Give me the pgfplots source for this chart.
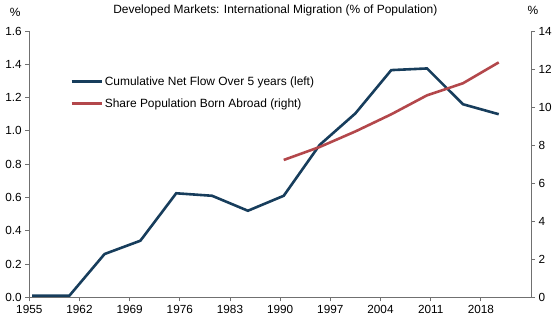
\documentclass[border=0pt]{standalone}
\usepackage{pgfplots}
\pgfplotsset{compat=1.18}
\usepackage{fontspec}
\setmainfont{Liberation Sans}
\definecolor{flowblue}{HTML}{173D5C}
\definecolor{sharered}{HTML}{B3474B}
\definecolor{axgray}{HTML}{707070}
\begin{document}
\begin{tikzpicture}
\pgfplotsset{
  common/.style={
    scale only axis,
    width=501.7bp, height=266.3bp,
    at={(0,0)}, anchor=south west,
    xmin=1955, xmax=2025,
    tick align=outside,
    major tick length=4bp,
    axis line style={axgray, line width=0.8bp},
    tick style={axgray, line width=0.8bp},
    /pgf/number format/assume math mode=true,
    tick label style={font=\fontsize{11.8}{13}\selectfont, text=black},
  }
}
\begin{axis}[common,
  axis x line*=bottom, axis y line*=left,
  ymin=0, ymax=1.6,
  ytick={0,0.2,...,1.6},
  yticklabel style={/pgf/number format/fixed, /pgf/number format/fixed zerofill, /pgf/number format/precision=1},
  xtick={1955,1962,1969,1976,1983,1990,1997,2004,2011,2018},
  xticklabel style={/pgf/number format/1000 sep={}},
  legend style={at={(40.7bp,223bp)}, anchor=north west, draw=none, fill=none,
    font=\fontsize{12}{14}\selectfont, row sep=8bp, inner sep=0pt,
    /tikz/every even column/.append style={column sep=1bp}},
  legend cell align=left,
  legend image code/.code={\draw[#1] (0bp,0bp) -- (30bp,0bp);},
  clip=false,
]
\addplot[flowblue, line width=2.6bp] coordinates {
(1955.4,0.01) (1960.6,0.01) (1965.5,0.26) (1970.5,0.34) (1975.5,0.625)
(1980.5,0.61) (1985.5,0.52) (1990.5,0.61) (1995.5,0.915) (2000.5,1.105)
(2005.5,1.365) (2010.5,1.375) (2015.5,1.16) (2020.5,1.10)};
\addlegendentry{Cumulative Net Flow Over 5 years (left)}
\addlegendimage{sharered, line width=2.6bp}
\addlegendentry{Share Population Born Abroad (right)}
\node[font=\fontsize{12}{14}\selectfont] at (rel axis cs:0,1) [xshift=-14bp, yshift=19bp] {\%};
\node[font=\fontsize{12}{14}\selectfont] at (rel axis cs:1,1) [xshift=2bp, yshift=21bp] {\%};
\node[font=\fontsize{12}{14}\selectfont] at (rel axis cs:0,1) [xshift=246bp, yshift=21bp] {Developed Markets: International Migration (\% of Population)};
\end{axis}
\begin{axis}[common,
  axis x line=none, axis y line*=right,
  ymin=0, ymax=14,
  ytick={0,2,...,14},
]
\addplot[sharered, line width=2.6bp] coordinates {
(1990.5,7.22) (1995.5,7.9) (2000.5,8.72) (2005.5,9.62) (2010.5,10.62)
(2015.5,11.25) (2020.5,12.35)};
\end{axis}
\pgfresetboundingbox
\path[use as bounding box] (-29.3bp,-28.7bp) rectangle (526.7bp,297.3bp);
\end{tikzpicture}
\end{document}
